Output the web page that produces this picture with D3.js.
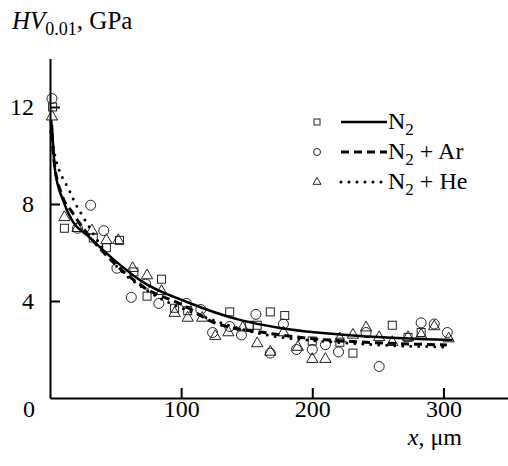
<!DOCTYPE html>
<html>
<head>
<meta charset="utf-8">
<script src="https://cdnjs.cloudflare.com/ajax/libs/d3/7.8.5/d3.min.js"></script>
<style>
  body { margin: 0; background: #fff; }
  svg { display: block; }
  svg text { font-family: "Times New Roman", "Liberation Serif", Times, "DejaVu Serif", serif; }
</style>
</head>
<body>
<div id="chart"></div>
<script>
// scatter points: [x in um, HV in GPa]
var n2Points = [[2,12.0],[11,7.0],[33,6.6],[43,6.2],[53,6.5],[64,5.2],[74,4.2],[85,4.9],[95,3.7],
  [105,3.6],[137,3.55],[152,3.0],[158,3.0],[168,3.55],[179,3.4],[200,2.35],[221,2.3],[231,1.85],
  [261,3.0],[273,2.5],[283,2.7]];
var arPoints = [[1.5,12.35],[21,7.0],[31,7.95],[41,6.9],[51,5.35],[62,4.15],[73,4.7],[83,3.9],
  [104,3.9],[115,3.65],[124,2.7],[137,2.95],[146,2.6],[157,3.45],[168,1.85],[178,3.05],[188,2.0],
  [200,2.0],[210,2.2],[220,1.9],[241,2.7],[251,1.3],[283,3.1],[293,3.05],[303,2.7]];
var hePoints = [[1.5,11.6],[11,7.45],[21,7.0],[32,6.9],[43,6.5],[52,6.5],[63,5.35],[74,5.05],
  [85,4.4],[95,3.5],[105,3.3],[116,3.3],[126,2.55],[136,2.7],[147,2.9],[158,2.25],[168,1.9],
  [178,2.7],[189,2.1],[200,1.6],[210,1.6],[221,2.45],[231,2.6],[241,2.9],[251,2.5],[261,2.3],
  [273,2.5],[283,2.6],[293,2.95],[304,2.45]];

// fitted curves, points
var n2Curve = [[1.5,11.26],[3.8,9.4],[9.9,8.16],[17.5,7.26],[28.2,6.72],[47.3,5.77],[70.9,4.78],
  [104.4,3.96],[144.8,3.22],[175.3,2.89],[226.4,2.6],[307,2.39]];
var arCurve = [[0.8,11.46],[3,9.81],[9.1,8.37],[16.8,7.67],[30.5,6.64],[48,5.61],[72.4,4.54],
  [102.9,3.79],[124.2,3.13],[165.4,2.68],[195.9,2.47],[236.3,2.31],[302.6,2.19]];
var heCurve = [[0.5,11.0],[3,10.2],[6.9,9.4],[11.4,8.9],[15.2,8.5],[19.1,8.04],[24.4,7.55],
  [29,7.13],[48,5.6],[76,4.37],[114,3.42],[158,2.68],[226,2.27],[303,2.1]];

var seriesNames = ["N2", "N2 + Ar", "N2 + He"];
var xTicks = [100, 200, 300];
var yTicks = [4, 8, 12];

var width = 508, height = 466;
var serif = '"Times New Roman", "Liberation Serif", Times, serif';
var fs = "24px", fsSub = "17px";

var svg = d3.select("#chart").append("svg")
    .attr("width", width)
    .attr("height", height);

var x = d3.scaleLinear().domain([0, 350]).range([50, 509]);
var y = d3.scaleLinear().domain([0, 14]).range([398, 58.5]);

// axes
var xAxis = d3.axisBottom(x).tickValues(xTicks).tickSizeInner(-10).tickSizeOuter(0).tickPadding(2);
var yAxis = d3.axisLeft(y).tickValues(yTicks).tickSizeInner(-10).tickSizeOuter(0).tickPadding(16);

var gx = svg.append("g")
    .attr("transform", "translate(0," + y(0) + ")")
    .call(xAxis);
var gy = svg.append("g")
    .attr("transform", "translate(" + x(0) + ",0)")
    .call(yAxis);

[gx, gy].forEach(function(g) {
  g.attr("font-family", serif);
  g.selectAll("path, line").attr("stroke", "#000").attr("stroke-width", 2);
  g.selectAll("text")
    .attr("fill", "#000")
    .style("font-family", serif)
    .style("font-size", fs);
});

// corner zero label
svg.append("text")
    .attr("x", x(0) - 21)
    .attr("y", 417)
    .attr("text-anchor", "middle")
    .style("font-size", fs)
    .text("0");

// y title
var yt = svg.append("text")
    .attr("x", 12)
    .attr("y", 29)
    .style("font-size", "25px");
yt.append("tspan").style("font-style", "italic").text("HV");
yt.append("tspan").attr("dy", 6).style("font-size", "18px").text("0.01");
yt.append("tspan").attr("dy", -6).text(", GPa");

// x title
var xt = svg.append("text")
    .attr("x", 462)
    .attr("y", 445)
    .attr("text-anchor", "end")
    .style("font-size", fs);
xt.append("tspan").style("font-style", "italic").text("x");
xt.append("tspan").text(", \u03bcm");

// markers
var mColor = "#222";
function drawSquares(data, size) {
  svg.append("g").selectAll("rect")
    .data(data).enter().append("rect")
    .attr("x", function(d) { return x(d[0]) - size / 2; })
    .attr("y", function(d) { return y(d[1]) - size / 2; })
    .attr("width", size).attr("height", size)
    .attr("fill", "none").attr("stroke", mColor).attr("stroke-width", 1);
}
function drawCircles(data, r) {
  svg.append("g").selectAll("circle")
    .data(data).enter().append("circle")
    .attr("cx", function(d) { return x(d[0]); })
    .attr("cy", function(d) { return y(d[1]); })
    .attr("r", r)
    .attr("fill", "none").attr("stroke", mColor).attr("stroke-width", 1);
}
var tri = d3.symbol().type(d3.symbolTriangle);
function drawTriangles(data, area) {
  svg.append("g").selectAll("path")
    .data(data).enter().append("path")
    .attr("d", tri.size(area))
    .attr("transform", function(d) { return "translate(" + x(d[0]) + "," + y(d[1]) + ")"; })
    .attr("fill", "none").attr("stroke", mColor).attr("stroke-width", 1);
}

drawSquares(n2Points, 8);
drawCircles(arPoints, 5);
drawTriangles(hePoints, 55);

// fitted lines
var line = d3.line()
    .curve(d3.curveMonotoneX)
    .x(function(d) { return x(d[0]); })
    .y(function(d) { return y(d[1]); });

var styles = [
  { data: n2Curve, dash: null, width: 2.5, cap: "butt" },
  { data: arCurve, dash: "8,5", width: 3, cap: "butt" },
  { data: heCurve, dash: "0,8", width: 3, cap: "round" }
];

styles.forEach(function(s) {
  svg.append("path")
    .attr("d", line(s.data))
    .attr("fill", "none")
    .attr("stroke", "#000")
    .attr("stroke-width", s.width)
    .attr("stroke-linecap", s.cap)
    .attr("stroke-dasharray", s.dash);
});

// legend
var legendY = [122, 152, 182];
var leg = svg.append("g");
drawSquares([[x.invert(317), y.invert(legendY[0])]], 6);
drawCircles([[x.invert(317), y.invert(legendY[1])]], 3.5);
drawTriangles([[x.invert(317), y.invert(legendY[2])]], 28);

styles.forEach(function(s, i) {
  leg.append("line")
    .attr("x1", 341).attr("x2", 387)
    .attr("y1", legendY[i]).attr("y2", legendY[i])
    .attr("stroke", "#000")
    .attr("stroke-width", s.width)
    .attr("stroke-linecap", s.cap)
    .attr("stroke-dasharray", s.dash);
  var t = leg.append("text")
    .attr("x", 388)
    .attr("y", legendY[i] + 7)
    .style("font-size", fs);
  var parts = seriesNames[i].split("2");
  t.append("tspan").text("N");
  t.append("tspan").attr("dy", 6).style("font-size", fsSub).text("2");
  if (parts[1]) t.append("tspan").attr("dy", -6).text(parts[1]);
});
</script>
</body>
</html>
